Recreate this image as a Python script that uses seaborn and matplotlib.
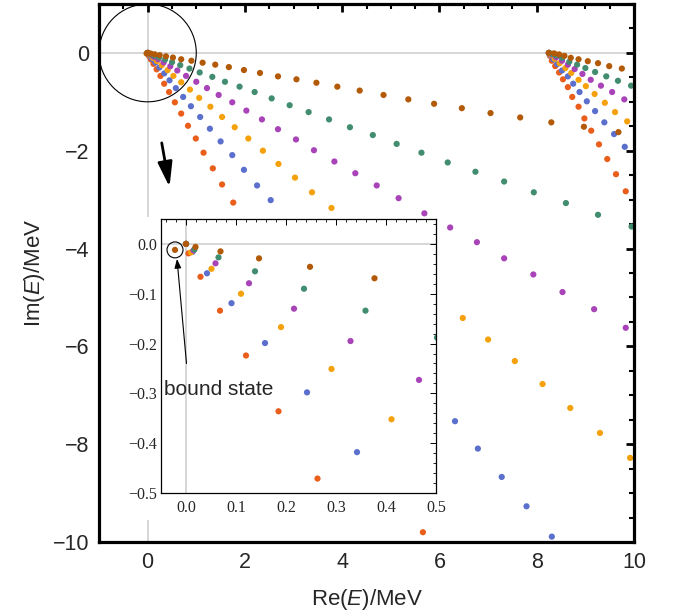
import numpy as np
import pandas as pd
import matplotlib
matplotlib.use('Agg')
import matplotlib.pyplot as plt
import seaborn as sns
from matplotlib.ticker import MultipleLocator
from matplotlib.patches import Circle, Rectangle

sns.set_theme(style='white')
plt.rcParams['font.family'] = ['Liberation Sans', 'DejaVu Sans']
plt.rcParams['mathtext.fontset'] = 'custom'
plt.rcParams['mathtext.it'] = 'Liberation Sans:italic'
plt.rcParams['mathtext.rm'] = 'Liberation Sans'

# ---------------- data ----------------
# trajectories starting at the first threshold (0, 0)
red_re = [0.0, 0.005, 0.029, 0.068, 0.120, 0.185, 0.263, 0.34, 0.44, 0.56, 0.69, 0.83,
          0.99, 1.15, 1.34, 1.53, 1.76, 5.66]
red_im = [0.0, -0.019, -0.066, -0.134, -0.224, -0.336, -0.471, -0.63, -0.80, -1.01, -1.24,
          -1.49, -1.75, -2.04, -2.36, -2.69, -3.06, -9.80]

blue_re = [0.0, 0.013, 0.042, 0.091, 0.158, 0.242, 0.342, 0.45, 0.58, 0.73, 0.89, 1.08,
           1.28, 1.50, 1.74, 1.98, 2.25, 2.53, 6.32, 6.79, 7.28, 7.79, 8.31]
blue_im = [0.0, -0.016, -0.059, -0.119, -0.199, -0.298, -0.418, -0.56, -0.72, -0.90, -1.09,
           -1.31, -1.55, -1.81, -2.09, -2.39, -2.71, -3.01, -7.53, -8.09, -8.67, -9.27, -9.89]

orange_re = [0.0, 0.010, 0.051, 0.110, 0.190, 0.291, 0.411, 0.53, 0.69, 0.87, 1.06, 1.29,
             1.53, 1.79, 2.07, 2.37, 2.69, 3.03, 3.38, 3.78, 6.48, 7.00, 7.55, 8.12, 8.69,
             9.30, 9.92]
orange_im = [0.0, -0.017, -0.050, -0.100, -0.167, -0.251, -0.352, -0.47, -0.60, -0.75, -0.92,
             -1.10, -1.31, -1.52, -1.75, -2.00, -2.27, -2.55, -2.85, -3.17, -5.42, -5.86,
             -6.30, -6.77, -7.26, -7.77, -8.28]

purple_re = [0.0, 0.015, 0.059, 0.126, 0.216, 0.329, 0.466, 0.61, 0.79, 1.00, 1.22, 1.46,
             1.74, 2.03, 2.35, 2.68, 3.05, 3.42, 3.84, 4.27, 4.71, 5.16, 5.69, 6.22, 6.77,
             7.33, 7.93, 8.53, 9.18, 9.83]
purple_im = [0.0, -0.013, -0.039, -0.079, -0.130, -0.195, -0.273, -0.36, -0.47, -0.59, -0.72,
             -0.86, -1.01, -1.18, -1.36, -1.56, -1.77, -1.99, -2.22, -2.46, -2.71, -2.97,
             -3.28, -3.57, -3.87, -4.20, -4.53, -4.89, -5.24, -5.62]

green_re = [0.0, 0.017, 0.065, 0.138, 0.236, 0.359, 0.502, 0.67, 0.86, 1.07, 1.33, 1.59,
            1.89, 2.20, 2.55, 2.92, 3.31, 3.73, 4.16, 4.63, 5.12, 5.63, 6.17, 6.74, 7.33,
            7.94, 8.60, 9.26, 9.95]
green_im = [0.0, -0.011, -0.027, -0.055, -0.090, -0.134, -0.188, -0.25, -0.32, -0.40, -0.49,
            -0.59, -0.69, -0.80, -0.93, -1.07, -1.21, -1.36, -1.52, -1.68, -1.86, -2.04,
            -2.24, -2.43, -2.63, -2.85, -3.07, -3.31, -3.55]

# first brown point is the bound state
brown_re = [-0.022, 0.0, 0.019, 0.069, 0.146, 0.248, 0.377, 0.52, 0.69, 0.90, 1.13, 1.39,
            1.67, 1.98, 2.31, 2.68, 3.06, 3.47, 3.90, 4.36, 4.85, 5.36, 5.89, 6.46, 7.05,
            7.66, 8.30, 8.97, 9.68]
brown_im = [-0.012, 0.0, -0.006, -0.015, -0.029, -0.046, -0.069, -0.095, -0.13, -0.16, -0.20,
            -0.24, -0.29, -0.35, -0.41, -0.48, -0.54, -0.61, -0.69, -0.77, -0.86, -0.95,
            -1.04, -1.13, -1.23, -1.32, -1.42, -1.51, -1.62]

# trajectories starting at the second threshold (~8.25, 0)
red2_re = [8.25, 8.27, 8.31, 8.38, 8.46, 8.54, 8.64, 8.73, 8.86, 8.98, 9.12, 9.28, 9.45,
           9.63, 9.83]
red2_im = [0.0, -0.06, -0.16, -0.27, -0.40, -0.54, -0.70, -0.90, -1.10, -1.34, -1.59, -1.87,
           -2.17, -2.48, -2.83]
blue2_re = [8.25, 8.28, 8.34, 8.42, 8.52, 8.64, 8.75, 8.88, 9.03, 9.20, 9.39, 9.59, 9.81]
blue2_im = [0.0, -0.05, -0.13, -0.23, -0.36, -0.48, -0.63, -0.80, -0.99, -1.19, -1.42, -1.66,
            -1.92]
orange2_re = [8.25, 8.29, 8.37, 8.47, 8.59, 8.71, 8.86, 9.01, 9.19, 9.40, 9.61, 9.86]
orange2_im = [0.0, -0.04, -0.12, -0.21, -0.31, -0.41, -0.55, -0.68, -0.84, -1.02, -1.21, -1.40]
purple2_re = [8.25, 8.30, 8.40, 8.52, 8.64, 8.78, 8.94, 9.11, 9.32, 9.55, 9.80]
purple2_im = [0.0, -0.03, -0.09, -0.16, -0.24, -0.33, -0.43, -0.55, -0.67, -0.80, -0.95]
green2_re = [8.25, 8.32, 8.40, 8.52, 8.67, 8.83, 9.00, 9.20, 9.43, 9.67, 9.94]
green2_im = [0.0, -0.02, -0.05, -0.10, -0.18, -0.24, -0.31, -0.39, -0.48, -0.57, -0.67]
brown2_re = [8.25, 8.36, 8.46, 8.57, 8.70, 8.86, 9.05, 9.26, 9.49, 9.75]
brown2_im = [0.0, -0.01, -0.03, -0.06, -0.10, -0.13, -0.17, -0.21, -0.27, -0.32]

colors = {
    'red': '#ea5e1c',
    'blue': '#5b6fcd',
    'orange': '#f5a10c',
    'purple': '#a843b8',
    'green': '#428d70',
    'brown': '#b25a08',
}

series = [
    ('red', red_re, red_im), ('blue', blue_re, blue_im), ('orange', orange_re, orange_im),
    ('purple', purple_re, purple_im), ('green', green_re, green_im), ('brown', brown_re, brown_im),
    ('red', red2_re, red2_im), ('blue', blue2_re, blue2_im), ('orange', orange2_re, orange2_im),
    ('purple', purple2_re, purple2_im), ('green', green2_re, green2_im),
    ('brown', brown2_re, brown2_im),
]
frames = [pd.DataFrame({'re': re, 'im': im, 'traj': name}) for name, re, im in series]
# draw order: brown last, so it sits on top
order = list(colors.keys())
df = pd.concat(frames, ignore_index=True)
df['rank'] = df['traj'].map({k: i for i, k in enumerate(order)})
df = df.sort_values('rank', kind='stable')

# ---------------- figure ----------------
fig = plt.figure(figsize=(6.78, 6.16), dpi=100)
ax = fig.add_axes([99 / 678, 1 - 542 / 616, 535 / 678, 538 / 616])

ax.axhline(0, color='#d3d3d3', lw=1.3, zorder=0)
ax.axvline(0, color='#d3d3d3', lw=1.3, zorder=0)
sns.scatterplot(data=df, x='re', y='im', hue='traj', palette=colors, s=20,
                edgecolor='none', linewidth=0, legend=False, ax=ax, zorder=2)

ax.add_patch(Circle((0, 0), 1.0, fill=False, edgecolor='black', lw=0.8, zorder=3))
ax.annotate('', xy=(0.45, -2.74), xytext=(0.29, -1.84),
            arrowprops=dict(arrowstyle='-|>,head_length=0.75,head_width=0.22',
                            mutation_scale=20, lw=2.0, color='black',
                            shrinkA=0, shrinkB=0))

ax.set_xlim(-1, 10)
ax.set_ylim(-10, 1)
ax.xaxis.set_major_locator(MultipleLocator(2))
ax.xaxis.set_minor_locator(MultipleLocator(0.5))
ax.yaxis.set_major_locator(MultipleLocator(2))
ax.yaxis.set_minor_locator(MultipleLocator(0.5))
ax.tick_params(which='both', direction='in', top=True, right=True, color='black')
ax.tick_params(which='major', length=6, width=2.0, labelsize=15.5, pad=7)
ax.tick_params(which='minor', length=3.5, width=1.5)
for sp in ax.spines.values():
    sp.set_color('black')
    sp.set_linewidth(2.3)
ax.set_xlabel(r'Re($\mathit{E}$)/MeV', fontsize=16, labelpad=10)
ax.set_ylabel(r'Im($\mathit{E}$)/MeV', fontsize=16, labelpad=4)

# white background of the inset graphic (covers tick labels too)
ax.add_patch(Rectangle((125 / 678, 1 - 520 / 616), (443 - 125) / 678, (520 - 217) / 616,
                       transform=fig.transFigure, facecolor='white', edgecolor='none',
                       zorder=4, clip_on=False))

# ---------------- inset ----------------
axin = fig.add_axes([161 / 678, 1 - 493 / 616, 275 / 678, 274 / 616])
axin.set_facecolor('white')
axin.axhline(0, color='#d3d3d3', lw=1.3, zorder=0)
axin.axvline(0, color='#d3d3d3', lw=1.3, zorder=0)
sns.scatterplot(data=df, x='re', y='im', hue='traj', palette=colors, s=20,
                edgecolor='none', linewidth=0, legend=False, ax=axin, zorder=2)
axin.add_patch(Circle((-0.022, -0.012), 0.016, fill=False, edgecolor='black', lw=0.8,
                      zorder=3))
axin.annotate('', xy=(-0.018, -0.030), xytext=(0.001, -0.24),
              arrowprops=dict(arrowstyle='-|>,head_length=0.55,head_width=0.2',
                              mutation_scale=10, lw=0.8, color='black',
                              shrinkA=0, shrinkB=0))
axin.text(-0.043, -0.293, 'bound state', fontsize=15, ha='left', va='center',
          family=['Liberation Sans', 'DejaVu Sans'])

axin.set_xlim(-0.05, 0.5)
axin.set_ylim(-0.5, 0.05)
axin.xaxis.set_major_locator(MultipleLocator(0.1))
axin.xaxis.set_minor_locator(MultipleLocator(0.02))
axin.yaxis.set_major_locator(MultipleLocator(0.1))
axin.yaxis.set_minor_locator(MultipleLocator(0.02))
axin.xaxis.set_major_formatter(matplotlib.ticker.FormatStrFormatter('%.1f'))
axin.yaxis.set_major_formatter(matplotlib.ticker.FuncFormatter(
    lambda v, p: ('%.1f' % v).replace('-', '\u2212') if abs(v) > 1e-9 else '0.0'))
axin.tick_params(which='both', direction='in', top=True, right=True, color='black')
axin.tick_params(which='major', length=4, width=0.7, labelsize=11.5, pad=3)
axin.tick_params(axis='x', which='major', pad=5)
axin.tick_params(which='minor', length=2, width=0.6)
for lab in axin.get_xticklabels() + axin.get_yticklabels():
    lab.set_family(['Liberation Serif', 'DejaVu Serif'])
for sp in axin.spines.values():
    sp.set_color('black')
    sp.set_linewidth(0.9)
axin.set_xlabel('')
axin.set_ylabel('')

fig.savefig('out.png', dpi=100)
